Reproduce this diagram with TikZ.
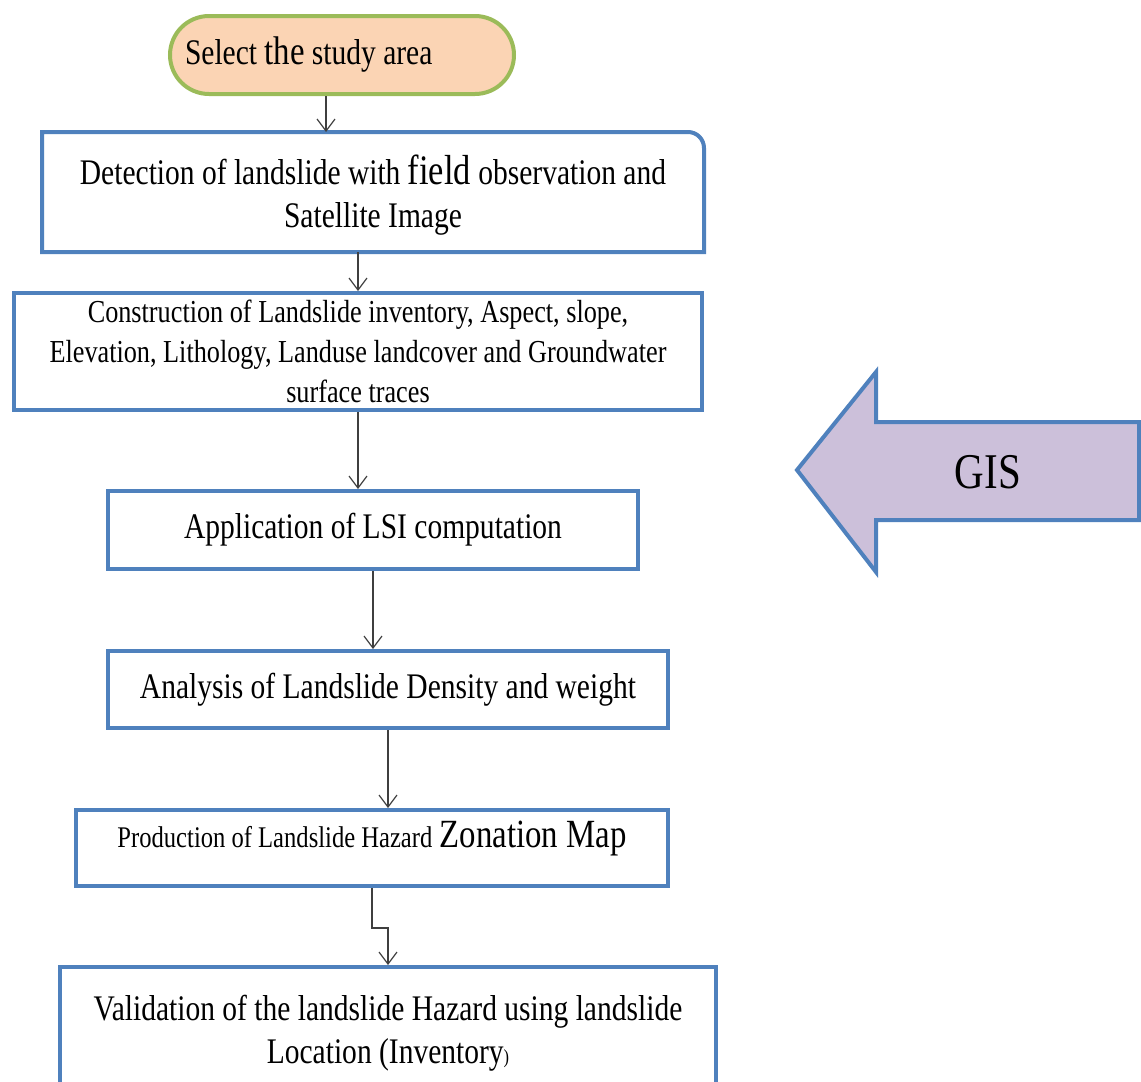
\documentclass[tikz,border=0pt]{standalone}
\usepackage{fontspec}
\setmainfont{Liberation Serif}[FakeStretch=0.82]
\usepackage{tikz}
\usetikzlibrary{arrows.meta,positioning,calc}
\definecolor{boxblue}{HTML}{4F81BD}
\definecolor{ovalgreen}{HTML}{9BBB59}
\definecolor{ovalfill}{HTML}{FBD4B4}
\definecolor{gisfill}{HTML}{CCC0DA}
\definecolor{flowgray}{HTML}{3F3F3F}

\begin{document}
\begin{tikzpicture}[x=0.5pt,y=-0.5pt,
    procbox/.style={draw=boxblue,line width=2pt,fill=white,align=center,
      inner sep=0pt,font=\fontsize{18}{21.5}\selectfont},
    startbox/.style={rectangle,rounded corners=19.5pt,draw=ovalgreen,line width=2pt,fill=ovalfill,
      minimum width=172pt,minimum height=39pt,inner xsep=7pt,
      font=\fontsize{18}{21.5}\selectfont},
    flow/.style={draw=flowgray,line width=0.6pt,-{Straight Barb[length=6pt,width=9pt]}}]
  \useasboundingbox (0,0) rectangle (1141,1082);
  \clip (0,0) rectangle (1141,1082);

  % flow chart boxes
  \node[startbox] (sel) at (342,55) {\makebox[157pt][l]{Select {\fontsize{20}{20}\selectfont the} study area}};
  \node[procbox,draw=none,minimum width=329pt,minimum height=58pt] (det) at (373,192)
    {\rule{0pt}{18pt}Detection of landslide with {\fontsize{21}{21}\selectfont field} observation and\\Satellite Image};
  \draw[boxblue,line width=2pt] (det.south west) -- (det.north west) -- ([xshift=-8pt]det.north east)
    arc[start angle=90,end angle=0,radius=8pt] -- (det.south east) -- cycle;
  \node[procbox,minimum width=344pt,minimum height=58.5pt,font=\fontsize{16}{20}\selectfont] (con) at (358,351.5)
    {Construction of Landslide inventory, Aspect, slope,\\Elevation, Lithology, Landuse landcover and Groundwater\\surface traces};
  \node[procbox,minimum width=265pt,minimum height=39pt] (lsi) at (373,530) {Application of LSI computation};
  \node[procbox,minimum width=280pt,minimum height=38.5pt] (ana) at (388,689.5) {Analysis of Landslide Density and weight};
  \node[procbox,minimum width=296pt,minimum height=38pt,text depth=14pt] (pro) at (372,848)
    {{\fontsize{15}{15}\selectfont Production of Landslide Hazard} {\fontsize{20}{20}\selectfont Zonation Map}};
  \node[procbox,minimum width=328pt,minimum height=66pt] (val) at (388,1033)
    {Validation of the landslide Hazard using landslide\\Location (Inventory{\fontsize{10}{10}\selectfont)}};

  % GIS block arrow
  \draw[boxblue,line width=2pt,fill=gisfill,line join=miter]
    (797,470) -- (876,372) -- (876,422) -- (1139,422) -- (1139,520) -- (876,520) -- (876,572) -- cycle;
  \node[font=\fontsize{25}{25}\selectfont] (gis) at (988,472) {GIS};

  % connectors
  \draw[flow] ([xshift=-8pt]sel.south) -- ([xshift=-8pt]sel.south |- det.north);
  \draw[flow] (det.south -| con.north) -- (con.north);
  \draw[flow] (con.south) -- (con.south |- lsi.north);
  \draw[flow] (lsi.south) -- (lsi.south |- ana.north);
  \draw[flow] (ana.south) -- (ana.south |- pro.north);
  \draw[flow] (pro.south) -- ++(0,40) -| (val.north);
\end{tikzpicture}
\end{document}
